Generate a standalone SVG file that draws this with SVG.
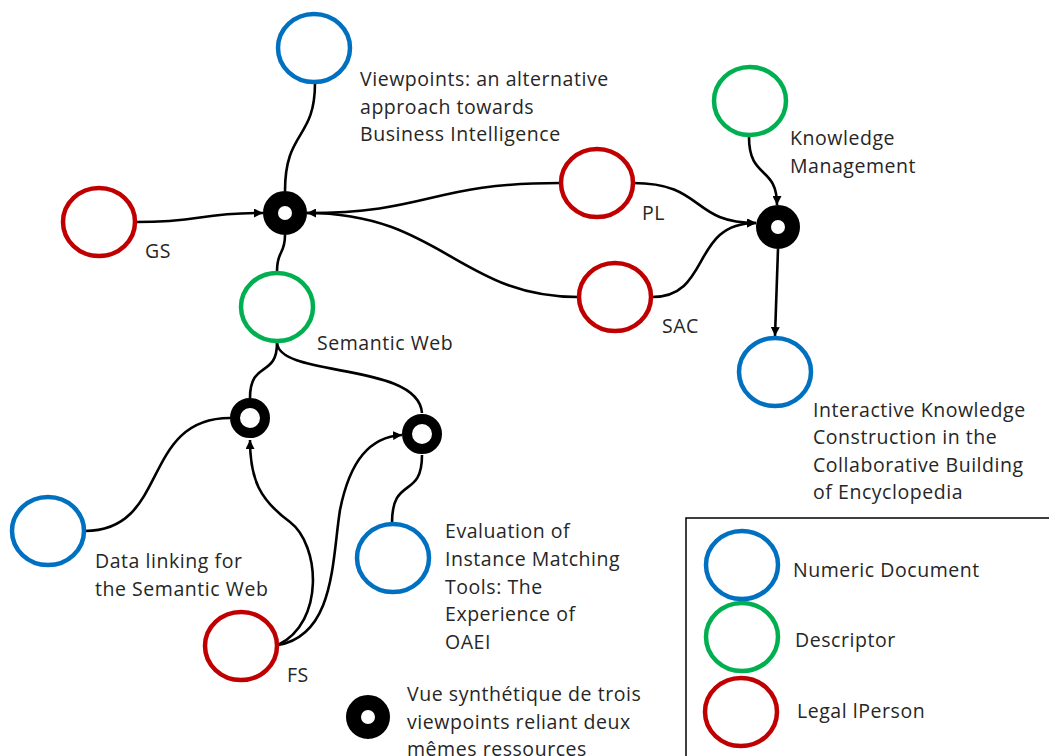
<svg xmlns="http://www.w3.org/2000/svg" width="1049" height="756" viewBox="0 0 1049 756">
<style>
.n{fill:none;stroke-width:4.5}
.b{stroke:#0070C0}.g{stroke:#00B050}.r{stroke:#C00000}
.hub{fill:none;stroke:#000}
.t{font-family:"Open Sans","Noto Sans","DejaVu Sans",sans-serif;font-size:19.5px;letter-spacing:0.55px;fill:#262626}
.c{fill:none;stroke:#000;stroke-width:2.6}
</style>
<defs>
<marker id="ah" viewBox="0 0 10 10" refX="10" refY="5" markerWidth="9" markerHeight="9" markerUnits="userSpaceOnUse" orient="auto">
<path d="M0,0 L10,5 L0,10 z" fill="#000"/>
</marker>
</defs>
<rect width="1049" height="756" fill="#fff"/>
<g id="connectors">
<path class="c" d="M315,83 C315,140 285,130 285,191"/>
<path class="c" d="M136,222 C205,222 195,213 263,213" marker-end="url(#ah)"/>
<path class="c" d="M560,183 C430,183 430,213 307,213" marker-end="url(#ah)"/>
<path class="c" d="M578,297 C460,297 440,213 307,213"/>
<path class="c" d="M285,235 C285,255 277,250 277,271"/>
<path class="c" d="M633,183 C705,183 690,223 756,223" marker-end="url(#ah)"/>
<path class="c" d="M652,297 C712,297 690,223 756,223" marker-end="url(#ah)"/>
<path class="c" d="M749,137 C749,180 777,165 777,205" marker-end="url(#ah)"/>
<path class="c" d="M778,249 L775,336" marker-end="url(#ah)"/>
<path class="c" d="M277,343 C277,378 250,360 250,398"/>
<path class="c" d="M277,343 C280,378 418,362 422,413"/>
<path class="c" d="M85,531 C170,531 140,418 230,418"/>
<path class="c" d="M278,645 C325,622 320,545 290,522 C260,500 250,480 250,440" marker-end="url(#ah)"/>
<path class="c" d="M278,645 C335,635 332,560 340,510 C350,460 370,437 402,435" marker-end="url(#ah)"/>
<path class="c" d="M392,523 C392,475 422,500 422,455"/>
</g>
<g id="hub-main"><circle class="hub" cx="285" cy="213" r="14.5" stroke-width="15"/></g>
<g id="hub-right"><circle class="hub" cx="778" cy="227" r="14.5" stroke-width="15"/></g>
<g id="hub-lowleft"><circle class="hub" cx="250" cy="418" r="15" stroke-width="10"/></g>
<g id="hub-lowright"><circle class="hub" cx="422" cy="434" r="15" stroke-width="10"/></g>
<g id="viewpoints"><ellipse class="n b" cx="314" cy="48" rx="36" ry="34"/>
<text class="t" x="360" y="86">Viewpoints: an alternative</text>
<text class="t" x="360" y="113.5">approach towards</text>
<text class="t" x="360" y="141">Business Intelligence</text></g>
<g id="gs"><ellipse class="n r" cx="99" cy="222" rx="36" ry="34"/><text class="t" x="145" y="258">GS</text></g>
<g id="semantic-web"><ellipse class="n g" cx="277" cy="307" rx="36" ry="34"/><text class="t" x="317" y="350">Semantic Web</text></g>
<g id="pl"><ellipse class="n r" cx="597" cy="183" rx="36" ry="34"/><text class="t" x="642" y="220">PL</text></g>
<g id="sac"><ellipse class="n r" cx="615" cy="297" rx="36" ry="34"/><text class="t" x="662" y="333">SAC</text></g>
<g id="km"><ellipse class="n g" cx="750" cy="101" rx="36" ry="34"/>
<text class="t" x="790" y="145">Knowledge</text><text class="t" x="790" y="173">Management</text></g>
<g id="ikc"><ellipse class="n b" cx="775" cy="372" rx="36" ry="34"/>
<text class="t" x="813" y="417">Interactive Knowledge</text>
<text class="t" x="813" y="444">Construction in the</text>
<text class="t" x="813" y="471.5">Collaborative Building</text>
<text class="t" x="813" y="499">of Encyclopedia</text></g>
<g id="data-linking"><ellipse class="n b" cx="48" cy="531" rx="36" ry="34"/>
<text class="t" x="95" y="568">Data linking for</text><text class="t" x="95" y="596">the Semantic Web</text></g>
<g id="fs"><ellipse class="n r" cx="241" cy="646" rx="36" ry="34"/><text class="t" x="287" y="682">FS</text></g>
<g id="evaluation"><ellipse class="n b" cx="393" cy="558" rx="36" ry="34"/>
<text class="t" x="445" y="538">Evaluation of</text>
<text class="t" x="445" y="566">Instance Matching</text>
<text class="t" x="445" y="593.5">Tools: The</text>
<text class="t" x="445" y="621">Experience of</text>
<text class="t" x="445" y="649">OAEI</text></g>
<g id="legend-hub"><circle class="hub" cx="368" cy="717" r="14.5" stroke-width="15"/>
<text class="t" x="407" y="701">Vue synthétique de trois</text>
<text class="t" x="407" y="728.5">viewpoints reliant deux</text>
<text class="t" x="407" y="756">mêmes ressources</text></g>
<g id="legend">
<rect x="686" y="518" width="400" height="300" fill="none" stroke="#000" stroke-width="1.5"/>
<ellipse class="n b" cx="742" cy="565" rx="36" ry="34"/><text class="t" x="793" y="577">Numeric Document</text>
<ellipse class="n g" cx="742" cy="637" rx="36" ry="34"/><text class="t" x="795" y="647">Descriptor</text>
<ellipse class="n r" cx="741" cy="712" rx="36" ry="34"/><text class="t" x="797" y="718">Legal lPerson</text>
</g>
</svg>
